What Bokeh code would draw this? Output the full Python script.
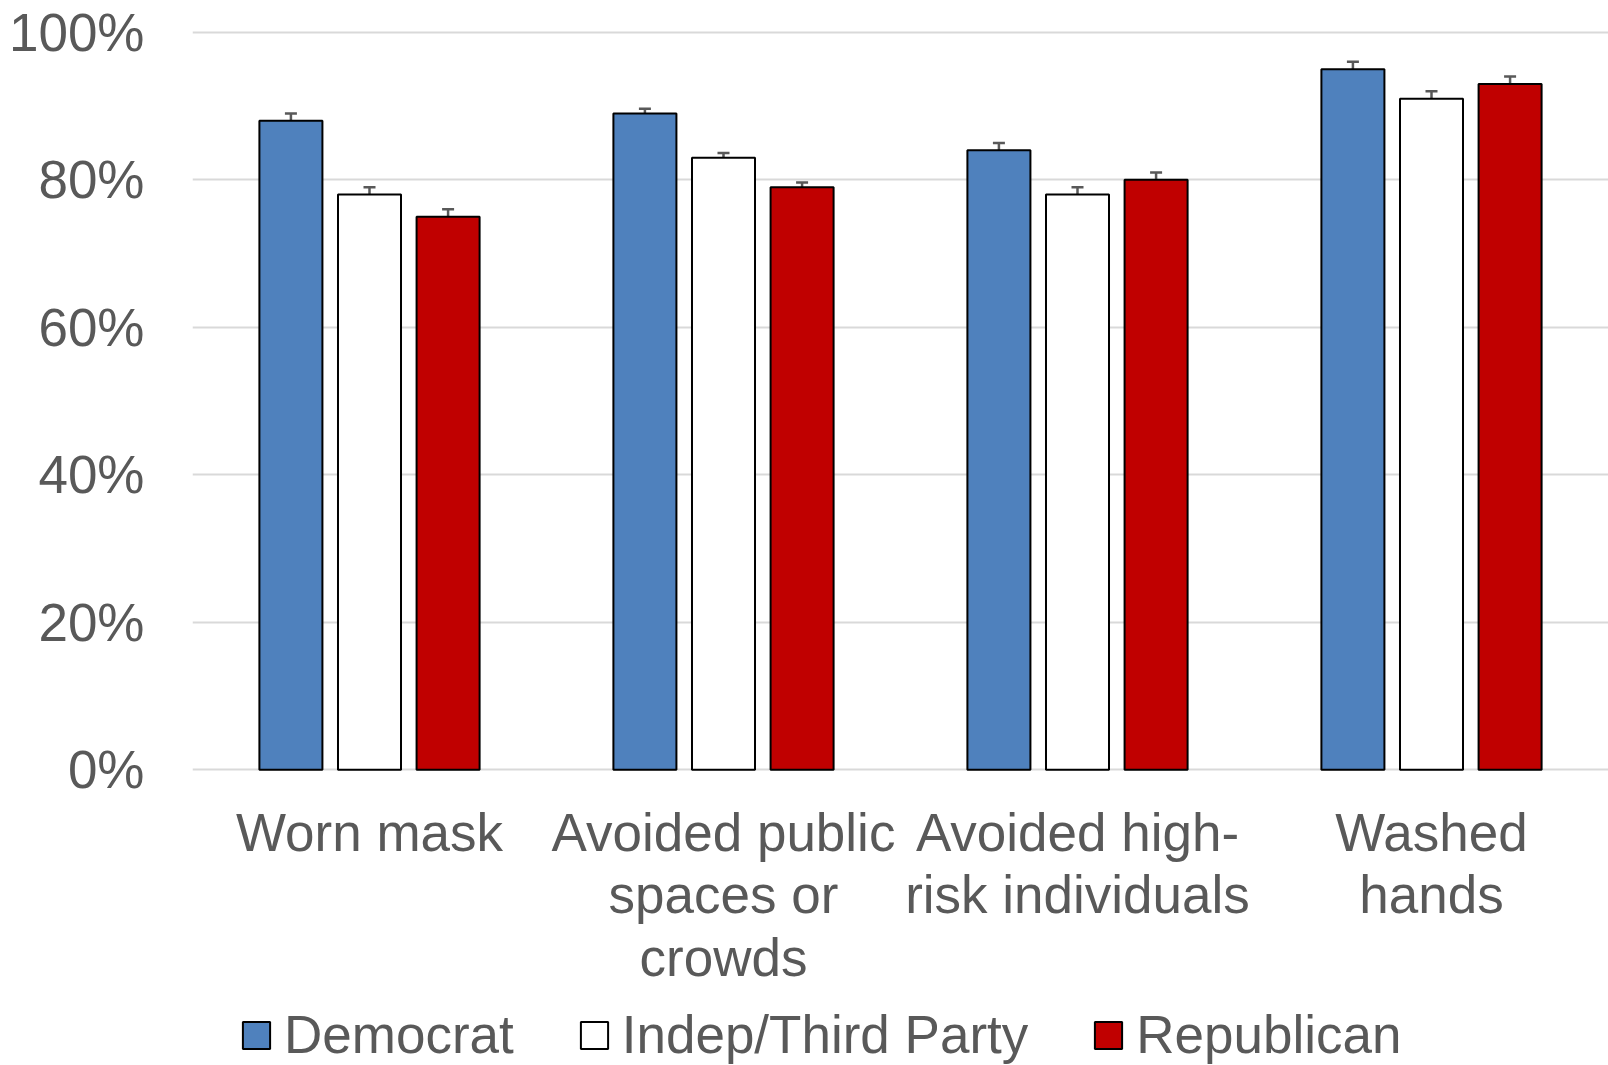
from bokeh.plotting import figure
from bokeh.layouts import column
from bokeh.models import (ColumnDataSource, FactorRange, Range1d, FixedTicker, PrintfTickFormatter,
                          Whisker, TeeHead)
from bokeh.transform import dodge
from bokeh.embed import file_html
from bokeh.resources import INLINE

categories = ["Worn mask", "Avoided public\nspaces or\ncrowds", "Avoided high-\nrisk individuals", "Washed\nhands"]
series = ["Democrat", "Indep/Third Party", "Republican"]
democrat = [88, 89, 84, 95]
independent = [78, 83, 78, 91]
republican = [75, 79, 80, 93]
err_democrat = [1.0, 0.65, 1.0, 1.0]
err_independent = [1.0, 0.65, 1.0, 1.0]
err_republican = [1.0, 0.65, 1.0, 1.0]
y_ticks = [0, 20, 40, 60, 80, 100]

FONT = "Liberation Sans"
TEXT = "#595959"
FS = "53px"
colors = ["#4f81bd", "#ffffff", "#c00000"]
offsets = [-0.222, 0.0, 0.222]
values = [democrat, independent, republican]
errors = [err_democrat, err_independent, err_republican]

p = figure(x_range=FactorRange(factors=categories, range_padding=0), y_range=Range1d(-0.25, 100.25),
           width=1608, height=1000, output_backend="svg", toolbar_location=None,
           min_border_left=192, min_border_right=0, min_border_top=30, min_border_bottom=229)
p.outline_line_color = None
p.background_fill_color = "white"

for name, vals, errs, col, off in zip(series, values, errors, colors, offsets):
    src = ColumnDataSource(dict(cat=categories, val=vals,
                                lower=[v - e for v, e in zip(vals, errs)],
                                upper=[v + e for v, e in zip(vals, errs)]))
    p.vbar(x=dodge("cat", off, range=p.x_range), top="val", width=0.178, source=src,
           fill_color=col, line_color="black", line_width=2)
    w = Whisker(base=dodge("cat", off, range=p.x_range), upper="upper", lower="lower", source=src,
                line_color="#595959", line_width=2.5,
                upper_head=TeeHead(size=12, line_color="#595959", line_width=2.5),
                lower_head=TeeHead(size=12, line_color="#595959", line_width=2.5))
    p.add_layout(w)

# grid
p.xgrid.grid_line_color = None
p.ygrid.ticker = FixedTicker(ticks=y_ticks)
p.ygrid.grid_line_color = "#d9d9d9"
p.ygrid.grid_line_width = 2
p.ygrid.level = "underlay"

# y axis
p.yaxis.ticker = FixedTicker(ticks=y_ticks)
p.yaxis.formatter = PrintfTickFormatter(format="%d%%")
p.yaxis.axis_line_color = None
p.yaxis.major_tick_line_color = None
p.yaxis.minor_tick_line_color = None
p.yaxis.major_tick_out = 0
p.yaxis.major_label_standoff = 48
p.yaxis.major_label_text_font = FONT
p.yaxis.major_label_text_font_size = FS
p.yaxis.major_label_text_color = TEXT

# x axis
p.xaxis.axis_line_color = None
p.xaxis.major_tick_line_color = None
p.xaxis.major_tick_out = 0
p.xaxis.major_label_standoff = 31
p.xaxis.major_label_text_font = FONT
p.xaxis.major_label_text_font_size = FS
p.xaxis.major_label_text_color = TEXT
p.xaxis.major_label_text_line_height = 1.06

# legend strip (hidden proxy renderer, legend only)
p2 = figure(width=1608, height=65, x_range=FactorRange(factors=series), y_range=Range1d(1, 2),
            output_backend="svg", toolbar_location=None, x_axis_type=None, y_axis_type=None,
            min_border=0)
p2.outline_line_color = None
p2.grid.visible = False
lsrc = ColumnDataSource(dict(party=series, color=colors, zero=[0] * len(series)))
proxy = p2.vbar(x="party", top="zero", width=0.1, source=lsrc, fill_color="color",
                line_color="black", line_width=2, legend_field="party")
proxy.visible = False
legend = p2.legend[0]
legend.inactive_fill_alpha = 0
legend.orientation = "horizontal"
legend.location = (47, 0)
legend.label_text_font = FONT
legend.label_text_font_size = FS
legend.label_text_color = TEXT
legend.glyph_width = 34
legend.glyph_height = 34
legend.label_standoff = 11
legend.spacing = 63
legend.padding = 0
legend.margin = 0
legend.border_line_color = None
legend.background_fill_alpha = 0
legend.label_height = 53

layout = column(p, p2, spacing=0)
open("out.html", "w").write(file_html(layout, INLINE))
